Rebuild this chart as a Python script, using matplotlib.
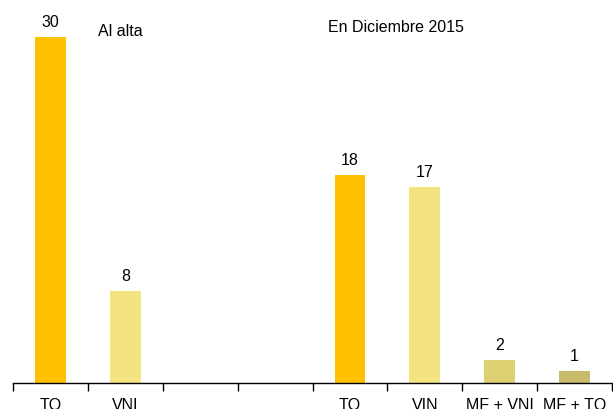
import matplotlib.pyplot as plt
import numpy as np

plt.rcParams['font.family'] = ['Liberation Sans', 'DejaVu Sans']

categories = ["TQ", "VNI", "", "", "TQ", "VIN", "MF + VNI", "MF + TQ"]
values = [30, 8, None, None, 18, 17, 2, 1]
colors = ["#FFC000", "#F3E381", None, None, "#FFC000", "#F3E381", "#DCD072", "#C8BB6A"]

fig = plt.figure(figsize=(6.13, 4.10), dpi=100)
ax = fig.add_axes([13 / 613, 26 / 410, 599 / 613, 384 / 410])

x = np.arange(len(categories))
for i, (v, c) in enumerate(zip(values, colors)):
    if v is None:
        continue
    ax.bar(i, v, width=0.41, color=c)
    ax.text(i, v + 0.7, str(v), ha='center', va='bottom', fontsize=11.5)

ax.set_xlim(-0.5, len(categories) - 0.5)
ax.set_ylim(0, 33.3)

ax.set_xticks(x)
ax.set_xticklabels(categories, fontsize=11.5)
ax.tick_params(axis='x', which='major', length=0, pad=10)
ax.set_xticks(np.arange(-0.5, len(categories)), minor=True)
ax.tick_params(axis='x', which='minor', length=6, width=1, direction='out')

ax.set_yticks([])
for s in ['top', 'right', 'left']:
    ax.spines[s].set_visible(False)
ax.spines['bottom'].set_linewidth(1)

ax.text(0.63, 30.6, "Al alta", ha='left', va='center', fontsize=11.5)
ax.text(3.71, 30.9, "En Diciembre 2015", ha='left', va='center', fontsize=11.5)

fig.savefig("out.png", dpi=100)
